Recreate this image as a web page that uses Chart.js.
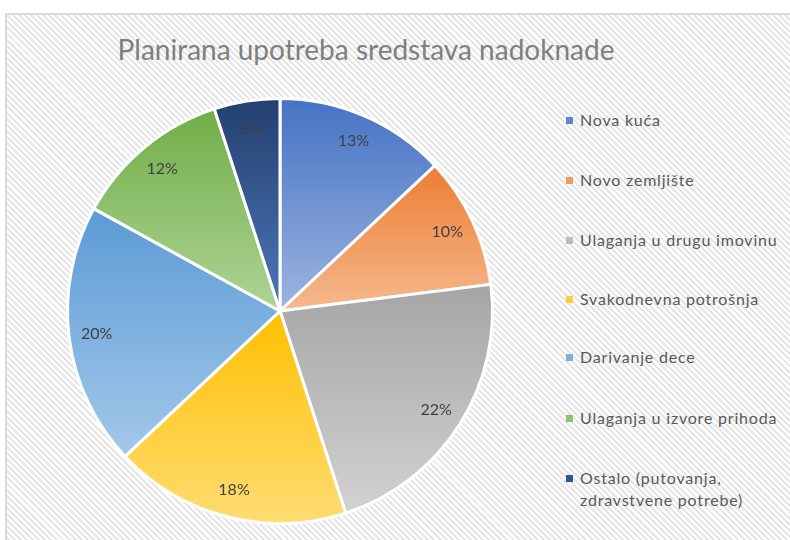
<!DOCTYPE html>
<html>
<head>
<meta charset="utf-8">
<script src="https://cdn.jsdelivr.net/npm/chart.js@4.4.0/dist/chart.umd.min.js"></script>
<style>
  body { margin: 0; background: #fff; width: 790px; height: 540px; overflow: hidden; position: relative; font-family: Lato, "Open Sans", sans-serif; }
  #frame {
    position: absolute; left: 5px; top: 13px; width: 800px; height: 540px;
    border-top: 2px solid #d9d9d9; border-left: 2px solid #d9d9d9;
    background: repeating-linear-gradient(45deg, #ffffff 0px, #ffffff 2.2px, #e6e6e6 2.2px, #e6e6e6 4.3px);
  }
  #title { position: absolute; left: 0; width: 732px; top: 32px; text-align: center; font-size: 28px; color: #7f7f7f; }
  #pie_box { position: absolute; left: 0; top: 0; width: 560px; height: 540px; }
  #legend { position: absolute; left: 566px; top: 0; }
  .leg_item { position: absolute; left: 0; width: 224px; font-size: 16px; color: #595959; line-height: 22px; letter-spacing: 0.8px; white-space: nowrap; }
  .leg_box { position: absolute; left: 0; top: 8px; width: 7px; height: 7px; }
  .leg_text { position: absolute; left: 14px; top: 0; }
</style>
</head>
<body>
<div id="frame"></div>
<div id="title">Planirana upotreba sredstava nadoknade</div>
<div id="pie_box"><canvas id="pie"></canvas></div>
<div id="legend"></div>
<script>
const categories = [
    "Nova kuća",
    "Novo zemljište",
    "Ulaganja u drugu imovinu",
    "Svakodnevna potrošnja",
    "Darivanje dece",
    "Ulaganja u izvore prihoda",
    "Ostalo (putovanja, zdravstvene potrebe)"
];
const shares = [13, 10, 22, 18, 20, 12, 5];

// top colour / bottom colour of each slice gradient
const top_colors = ['#4472c4', '#ed7d31', '#a5a5a5', '#ffc000', '#5b9bd5', '#70ad47', '#22406f'];
const bottom_colors = ['#9db4e0', '#f6b98f', '#d2d2d2', '#ffdc73', '#a4c8ea', '#aed496', '#4e76b8'];
const legend_colors = ['#5f87cf', '#f2995c', '#bcbcbc', '#ffcd38', '#7db0e0', '#8ec26c', '#2f5597'];

function slice_gradient(context) {
    const chart = context.chart;
    const area = chart.chartArea;
    if (!area) return top_colors[context.dataIndex];
    const i = context.dataIndex;
    const total = shares.reduce((a, b) => a + b, 0);
    let before = 0;
    for (let k = 0; k < i; k++) before += shares[k];
    const a0 = before / total * 2 * Math.PI;
    const a1 = (before + shares[i]) / total * 2 * Math.PI;
    const cx = (area.left + area.right) / 2;
    const cy = (area.top + area.bottom) / 2;
    const r = Math.min(area.right - area.left, area.bottom - area.top) / 2;
    let ys = [cy, cy - r * Math.cos(a0), cy - r * Math.cos(a1)];
    if (a0 <= 0.0001) ys.push(cy - r);
    if (a0 <= Math.PI && a1 >= Math.PI) ys.push(cy + r);
    const y_top = Math.min(...ys);
    const y_bot = Math.max(...ys);
    const g = chart.ctx.createLinearGradient(0, y_top, 0, y_bot);
    g.addColorStop(0, top_colors[i]);
    g.addColorStop(1, bottom_colors[i]);
    return g;
}

const percent_labels = {
    id: 'percent_labels',
    afterDatasetsDraw(chart) {
        const ctx = chart.ctx;
        const meta = chart.getDatasetMeta(0);
        ctx.save();
        ctx.font = '16px Lato, "Open Sans", sans-serif';
        ctx.fillStyle = '#404040';
        ctx.textAlign = 'center';
        ctx.textBaseline = 'middle';
        meta.data.forEach(function (arc, i) {
            const p = arc.getProps(['x', 'y', 'startAngle', 'endAngle', 'outerRadius'], true);
            const mid = (p.startAngle + p.endAngle) / 2;
            const d = p.outerRadius * 0.87;
            ctx.fillText(shares[i] + '%', p.x + Math.cos(mid) * d, p.y + Math.sin(mid) * d);
        });
        ctx.restore();
    }
};

const pie_chart = new Chart(document.getElementById('pie'), {
    type: 'pie',
    data: {
        labels: categories,
        datasets: [{
            data: shares,
            backgroundColor: slice_gradient,
            borderColor: '#ffffff',
            borderWidth: 3
        }]
    },
    options: {
        responsive: true,
        maintainAspectRatio: false,
        animation: false,
        layout: { padding: { top: 97, bottom: 15, left: 66, right: 66 } },
        plugins: {
            legend: { display: false },
            tooltip: { enabled: false },
            title: { display: false }
        }
    },
    plugins: [percent_labels]
});

// legend on the right, built from the same arrays
const legend = document.getElementById('legend');
const legend_tops = [109, 169, 229, 288, 346, 407, 467];
categories.forEach(function (name, i) {
    const item = document.createElement('div');
    item.className = 'leg_item';
    item.style.top = legend_tops[i] + 'px';
    const box = document.createElement('div');
    box.className = 'leg_box';
    box.style.background = legend_colors[i];
    const txt = document.createElement('div');
    txt.className = 'leg_text';
    if (name.indexOf('(') > 0) {
        txt.innerHTML = 'Ostalo (putovanja,<br>zdravstvene potrebe)';
    } else {
        txt.textContent = name;
    }
    item.appendChild(box);
    item.appendChild(txt);
    legend.appendChild(item);
});
</script>
</body>
</html>
